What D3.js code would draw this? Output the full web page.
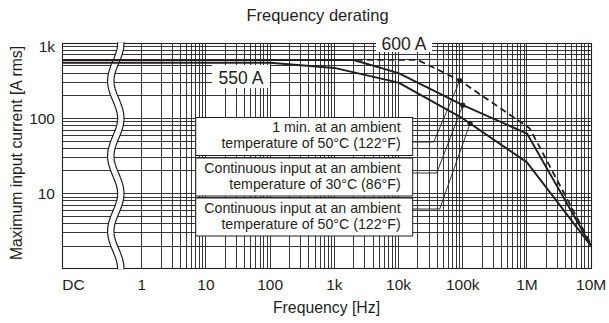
<!DOCTYPE html>
<html><head><meta charset="utf-8">
<script src="https://cdn.jsdelivr.net/npm/d3@7"></script>
<style>html,body{margin:0;padding:0;background:#fff;} svg{display:block;font-family:"Liberation Sans",Arial,Helvetica,sans-serif;}</style>
</head><body><svg id="c" width="609" height="323"></svg>
<script>
// ---------- data ----------
const xTickLabels = ["DC","1","10","100","1k","10k","100k","1M","10M"];
const xTickValues = [0, 1, 10, 100, 1e3, 1e4, 1e5, 1e6, 1e7];
const yTickLabels = ["1k","100","10"];
const yTickValues = [1000, 100, 10];

// 1 min. at 50°C (dashed)
const min1At50Freq = [0, 2e4, 9e4, 1.1e6, 1e7];
const min1At50Amps = [600, 600, 320, 74, 2.1];
// Continuous at 30°C
const contAt30Freq = [0, 2e3, 1e4, 1e5, 1e6, 1e7];
const contAt30Amps = [600, 600, 400, 150, 63, 2];
// Continuous at 50°C
const contAt50Freq = [0, 100, 1e3, 1e4, 1e5, 1e6, 1e7];
const contAt50Amps = [550, 550, 470, 300, 100, 26, 2];

// marker dots (where the callouts point)
const markerFreq = [9e4, 1e5, 1.3e5];
const markerAmps = [320, 150, 86];

const legendLines = [
  ["1 min. at an ambient", "temperature of 50°C (122°F)"],
  ["Continuous input at an ambient", "temperature of 30°C (86°F)"],
  ["Continuous input at an ambient", "temperature of 50°C (122°F)"]
];
const levelLabels = ["600 A", "550 A"];
const titleText = "Frequency derating";
const xTitle = "Frequency [Hz]";
const yTitle = "Maximum input current [A rms]";

// ---------- layout ----------
const INK = "#231f20";
const plot = {left: 62.3, right: 591.2, top: 43.3, bottom: 268.7};
const svg = d3.select("#c");

const xLog = d3.scaleLog().domain([1, 1e7]).range([141.7, plot.right]);
const y = d3.scaleLog().domain([1, 1000]).range([plot.bottom, plot.top]);
const X = f => f === 0 ? plot.left : xLog(f);
const crisp = v => Math.round(v - 0.5) + 0.5;

// ---------- grid ----------
const grid = svg.append("g").attr("stroke", INK).attr("stroke-width", 0.9).attr("fill", "none");
xLog.ticks().filter(v => v < 1e7).forEach(v => {
  const px = crisp(xLog(v));
  grid.append("line").attr("x1", px).attr("x2", px).attr("y1", plot.top).attr("y2", plot.bottom);
});
y.ticks().filter(v => v > 1 && v < 1000).forEach(v => {
  const py = crisp(y(v));
  grid.append("line").attr("x1", plot.left).attr("x2", plot.right).attr("y1", py).attr("y2", py);
});
// border
svg.append("rect").attr("x", crisp(plot.left)).attr("y", crisp(plot.top))
  .attr("width", Math.round(plot.right - plot.left)).attr("height", Math.round(plot.bottom - plot.top))
  .attr("fill", "none").attr("stroke", INK).attr("stroke-width", 1.1);

// ---------- wavy break between DC and 1 ----------
const waveCx = 115.8, waveAmp = 5, wavePeriod = y(100) - y(1000);
const wavePts = d3.range(plot.top - 1, plot.bottom + 1.5, 1).map(py =>
  [waveCx + waveAmp * Math.cos(2 * Math.PI * (py - plot.top) / wavePeriod), py]);
const waveLine = d3.line();
svg.append("path").attr("d", waveLine(wavePts)).attr("fill", "none").attr("stroke", INK).attr("stroke-width", 7.6);
svg.append("path").attr("d", waveLine(wavePts)).attr("fill", "none").attr("stroke", "#fff").attr("stroke-width", 5.2);

// ---------- level label boxes ----------
const lbl550 = svg.append("g");
lbl550.append("rect").attr("x", 212).attr("y", 65).attr("width", 58).attr("height", 23).attr("fill", "#fff");
lbl550.append("text").attr("x", 241).attr("y", 83.5).attr("text-anchor", "middle")
  .attr("font-size", 17.5).attr("fill", INK).text(levelLabels[1]);

// ---------- curves ----------
const line = d3.line().x(d => X(d[0])).y(d => y(d[1]));
const zip = (a, b) => a.map((v, i) => [v, b[i]]);
svg.append("path").attr("d", line(zip(min1At50Freq, min1At50Amps))).attr("fill", "none")
  .attr("stroke", INK).attr("stroke-width", 1.8).attr("stroke-dasharray", "6.5,4");
svg.append("path").attr("d", line(zip(contAt30Freq, contAt30Amps))).attr("fill", "none")
  .attr("stroke", INK).attr("stroke-width", 1.9).attr("stroke-linejoin", "round");
svg.append("path").attr("d", line(zip(contAt50Freq, contAt50Amps))).attr("fill", "none")
  .attr("stroke", INK).attr("stroke-width", 1.9).attr("stroke-linejoin", "round");

// ---------- legend boxes + leaders ----------
const box = {left: 195.7, right: 412.7, h: 38, tops: [117.5, 158, 198]};
const leaderDy = [24.5, 15, 11];
const elbowDx = [21, 24, 27];
const legendFont = 14.2;
legendLines.forEach((lines, i) => {
  const top = box.tops[i];
  svg.append("rect").attr("x", box.left).attr("y", top).attr("width", box.right - box.left).attr("height", box.h)
    .attr("fill", "#fff").attr("stroke", INK).attr("stroke-width", 1);
  lines.forEach((s, j) => {
    svg.append("text").attr("x", box.right - 12).attr("y", top + 14.6 + j * 16)
      .attr("text-anchor", "end").attr("font-size", legendFont).attr("fill", INK).text(s);
  });
  const ly = top + leaderDy[i];
  const ex = box.right + elbowDx[i];
  svg.append("path")
    .attr("d", d3.line()([[box.right, ly], [ex, ly], [xLog(markerFreq[i]), y(markerAmps[i])]]))
    .attr("fill", "none").attr("stroke", INK).attr("stroke-width", 0.9);
});
svg.selectAll("circle.dot").data(markerFreq).enter().append("circle")
  .attr("cx", (d) => xLog(d)).attr("cy", (d, i) => y(markerAmps[i])).attr("r", 2.6).attr("fill", INK);

// 600 A label (over the top border)
const lbl600 = svg.append("g");
lbl600.append("rect").attr("x", 376).attr("y", 32).attr("width", 56).attr("height", 20).attr("fill", "#fff");
lbl600.append("text").attr("x", 404).attr("y", 50).attr("text-anchor", "middle")
  .attr("font-size", 17.5).attr("fill", INK).text(levelLabels[0]);

// ---------- tick labels ----------
svg.append("g").selectAll("text").data(xTickValues).enter().append("text")
  .attr("x", d => d === 0 ? plot.left : xLog(d)).attr("y", 290)
  .attr("text-anchor", d => d === 0 ? "start" : "middle")
  .attr("font-size", 15.5).attr("fill", INK).text((d, i) => xTickLabels[i]);
svg.append("g").selectAll("text").data(yTickValues).enter().append("text")
  .attr("x", 55).attr("y", d => y(d) + (d === 1000 ? 8.4 : 5.5))
  .attr("text-anchor", "end").attr("font-size", 15.5).attr("fill", INK).text((d, i) => yTickLabels[i]);

// ---------- titles ----------
svg.append("text").attr("x", 317.5).attr("y", 20.7).attr("text-anchor", "middle")
  .attr("font-size", 16.5).attr("fill", INK).text(titleText);
svg.append("text").attr("x", 326.5).attr("y", 313).attr("text-anchor", "middle")
  .attr("font-size", 15.8).attr("fill", INK).text(xTitle);
svg.append("text").attr("transform", "translate(22,153) rotate(-90)").attr("text-anchor", "middle")
  .attr("font-size", 15.8).attr("fill", INK).text(yTitle);
</script></body></html>
